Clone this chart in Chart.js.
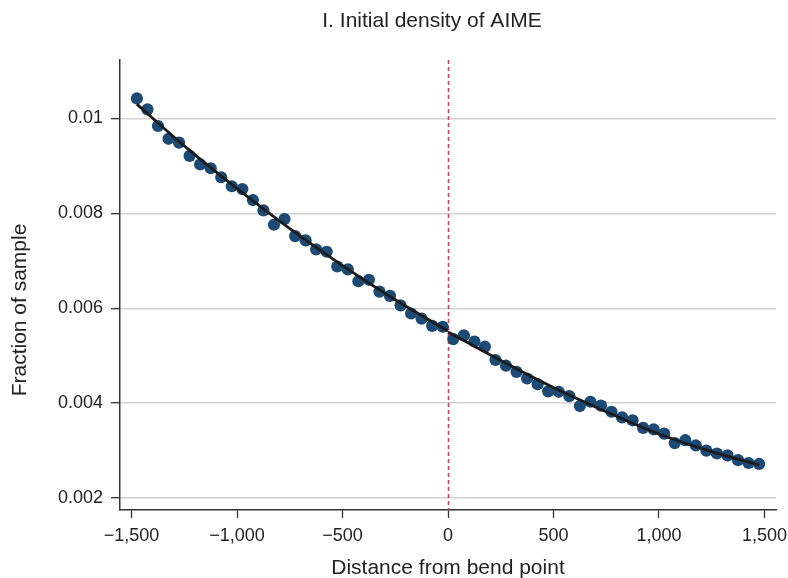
<!DOCTYPE html>
<html>
<head>
<meta charset="utf-8">
<script src="https://cdn.jsdelivr.net/npm/chart.js@4.4.1/dist/chart.umd.min.js"></script>
<style>
  html, body { margin: 0; padding: 0; background: #fff; }
  #wrap { width: 788px; height: 578px; }
</style>
</head>
<body>
<div id="wrap"><canvas id="density" width="788" height="578"></canvas></div>
<script>
// ─── Data ─────────────────────────────────────────────────────────
// 50-unit bins of AIME distance from the bend point (bin midpoints)
const binCenters = [
  -1475, -1425, -1375, -1325, -1275, -1225, -1175, -1125, -1075, -1025,
  -975, -925, -875, -825, -775, -725, -675, -625, -575, -525,
  -475, -425, -375, -325, -275, -225, -175, -125, -75, -25,
  25, 75, 125, 175, 225, 275, 325, 375, 425, 475,
  525, 575, 625, 675, 725, 775, 825, 875, 925, 975,
  1025, 1075, 1125, 1175, 1225, 1275, 1325, 1375, 1425, 1475,
];

// share of the sample falling in each bin
const sampleShare = [
  0.01042, 0.01019, 0.00984, 0.00957, 0.00949, 0.00921, 0.00903, 0.00895, 0.00876, 0.00857,
  0.00851, 0.00828, 0.00806, 0.00776, 0.00788, 0.00752, 0.00743, 0.00724, 0.00719, 0.00688,
  0.00682, 0.00657, 0.00660, 0.00635, 0.00626, 0.00606, 0.00589, 0.00578, 0.00563, 0.00561,
  0.00535, 0.00543, 0.00530, 0.00519, 0.00491, 0.00479, 0.00466, 0.00452, 0.00440, 0.00425,
  0.00424, 0.00415, 0.00394, 0.00403, 0.00395, 0.00382, 0.00370, 0.00364, 0.00348, 0.00345,
  0.00336, 0.00316, 0.00322, 0.00311, 0.00300, 0.00294, 0.00290, 0.00280, 0.00274, 0.00272,
];

// fitted curves, estimated separately on each side of the bend point
const fitLeftX = [-1475, -1250, -1000, -750, -500, -250, 0];
const fitLeftY = [0.01030, 0.00942, 0.00852, 0.00768, 0.00690, 0.00618, 0.00552];
const fitRightX = [0, 250, 500, 750, 1000, 1250, 1475];
const fitRightY = [0.00550, 0.00490, 0.00433, 0.00382, 0.00335, 0.00298, 0.00270];

const xTicks = [-1500, -1000, -500, 0, 500, 1000, 1500];
const yTicks = [0.002, 0.004, 0.006, 0.008, 0.01];
const bendPoint = 0;

// ─── Helpers ──────────────────────────────────────────────────────
const FONT = "'Liberation Sans', Arial, Helvetica, sans-serif";
const INK = '#222222';

const toPoints = (xs, ys) => xs.map((x, i) => ({ x, y: ys[i] }));

const fmtDistance = (v) => {
  if (v === 0) return '0';
  return (v < 0 ? '\u2212' : '') + Math.abs(v).toLocaleString('en-US');
};

const fitLine = (label, xs, ys) => ({
  type: 'line',
  label,
  data: toPoints(xs, ys),
  borderColor: '#1b1b1b',
  borderWidth: 2.8,
  pointRadius: 0,
  fill: false,
  tension: 0.4,
  cubicInterpolationMode: 'monotone',
  order: 0,
});

// dashed marker at the bend point, behind the dots
const bendLine = {
  id: 'bendLine',
  beforeDatasetsDraw(chart) {
    const { ctx, chartArea, scales } = chart;
    const px = Math.round(scales.x.getPixelForValue(bendPoint)) + 0.5;
    ctx.save();
    ctx.strokeStyle = '#d23a55';
    ctx.lineWidth = 1.5;
    ctx.setLineDash([4, 3]);
    ctx.beginPath();
    ctx.moveTo(px, chartArea.top);
    ctx.lineTo(px, chartArea.bottom);
    ctx.stroke();
    ctx.restore();
  },
};

// panel heading and the vertical axis caption
const captions = {
  id: 'captions',
  afterDraw(chart) {
    const { ctx } = chart;
    ctx.save();
    ctx.fillStyle = INK;
    ctx.font = `21px ${FONT}`;
    ctx.textAlign = 'center';
    ctx.textBaseline = 'middle';
    ctx.fillText('I. Initial density of AIME', 432, 21);

    ctx.translate(20, 310);
    ctx.rotate(-Math.PI / 2);
    ctx.fillText('Fraction of sample', 0, 0);
    ctx.restore();
  },
};

// ─── Chart ────────────────────────────────────────────────────────
new Chart(document.getElementById('density'), {
  type: 'scatter',
  data: {
    datasets: [
      fitLine('Fit (below bend)', fitLeftX, fitLeftY),
      fitLine('Fit (above bend)', fitRightX, fitRightY),
      {
        type: 'scatter',
        label: 'Fraction of sample',
        data: toPoints(binCenters, sampleShare),
        backgroundColor: '#1c4a75',
        borderWidth: 0,
        pointRadius: 6.1,
        order: 1,
      },
    ],
  },
  options: {
    responsive: false,
    animation: false,
    devicePixelRatio: 1,
    layout: { padding: { top: 60, right: 12, left: 0, bottom: 0 } },
    plugins: {
      legend: { display: false },
      tooltip: { enabled: false },
      title: { display: false },
    },
    scales: {
      x: {
        type: 'linear',
        min: -1555,
        max: 1555,
        afterFit: (scale) => {
          scale.height = 68;
          // end labels may hang past the axis; keep the plot width fixed
          scale.paddingLeft = 0;
          scale.paddingRight = 0;
        },
        afterBuildTicks: (scale) => { scale.ticks = xTicks.map((value) => ({ value })); },
        grid: { drawOnChartArea: false, tickLength: 8, tickColor: '#333', tickWidth: 1.3 },
        border: { color: '#333', width: 1.5 },
        ticks: {
          color: INK,
          font: { family: FONT, size: 18 },
          padding: 7,
          maxRotation: 0,
          callback: (v) => fmtDistance(v),
        },
        title: {
          display: true,
          text: 'Distance from bend point',
          color: INK,
          font: { family: FONT, size: 21 },
          padding: { top: 0, bottom: -3 },
        },
      },
      y: {
        type: 'linear',
        min: 0.00175,
        max: 0.01123,
        afterFit: (scale) => {
          scale.width = 120;
          scale.paddingTop = 0;
          scale.paddingBottom = 0;
        },
        afterBuildTicks: (scale) => { scale.ticks = yTicks.map((value) => ({ value })); },
        grid: { color: '#d2d2d2', lineWidth: 1.4, tickLength: 9, tickColor: '#333', tickWidth: 1.3 },
        border: { color: '#333', width: 1.5 },
        ticks: {
          color: INK,
          font: { family: FONT, size: 18 },
          padding: 8,
          callback: (v) => String(v),
        },
      },
    },
  },
  plugins: [bendLine, captions],
});
</script>
</body>
</html>
